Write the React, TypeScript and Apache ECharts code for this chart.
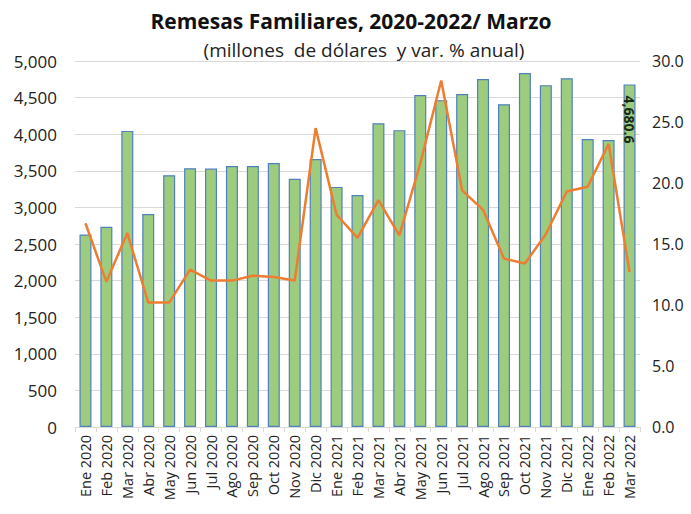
import React, { useEffect, useRef } from "react";
import * as echarts from "echarts";

const categories = [
  "Ene 2020", "Feb 2020", "Mar 2020", "Abr 2020", "May 2020", "Jun 2020", "Jul 2020",
  "Ago 2020", "Sep 2020", "Oct 2020", "Nov 2020", "Dic 2020",
  "Ene 2021", "Feb 2021", "Mar 2021", "Abr 2021", "May 2021", "Jun 2021", "Jul 2021",
  "Ago 2021", "Sep 2021", "Oct 2021", "Nov 2021", "Dic 2021",
  "Ene 2022", "Feb 2022", "Mar 2022",
];

const remesas = [
  2630, 2735, 4045, 2910, 3440, 3535, 3530, 3565, 3565, 3605, 3390, 3660,
  3280, 3170, 4150, 4055, 4535, 4465, 4550, 4755, 4410, 4835, 4670, 4765,
  3935, 3920, 4680.6,
];

const variacion = [
  16.7, 11.9, 15.9, 10.2, 10.2, 12.9, 12.0, 12.0, 12.4, 12.3, 12.0, 24.5,
  17.4, 15.5, 18.6, 15.7, 21.6, 28.4, 19.4, 17.8, 13.8, 13.4, 15.8, 19.3,
  19.7, 23.2, 12.7,
];

const leftTicks = { min: 0, max: 5000, interval: 500 };
const rightTicks = { min: 0, max: 30, interval: 5 };

const FONT = "'Open Sans', 'Noto Sans', sans-serif";

export default function App() {
  const ref = useRef<HTMLDivElement>(null);

  useEffect(() => {
    if (!ref.current) return;
    const chart = echarts.init(ref.current, null, { renderer: "svg" });
    const last = remesas.length - 1;
    const barData = remesas.map((v, i) =>
      i === last
        ? {
            value: v,
            label: {
              show: true,
              position: [6, 11],
              rotate: -90,
              align: "left",
              verticalAlign: "middle",
              formatter: (p: any) =>
                Number(p.value).toLocaleString("en-US", { minimumFractionDigits: 1, maximumFractionDigits: 1 }),
              fontFamily: FONT,
              fontWeight: "bold",
              fontSize: 14,
              color: "#1a2a1a",
            },
          }
        : v
    );

    chart.setOption({
      animation: false,
      backgroundColor: "#ffffff",
      title: [
        {
          text: "Remesas Familiares, 2020-2022/ Marzo",
          left: 346,
          textAlign: "center",
          top: 5,
          textStyle: { fontFamily: FONT, fontWeight: "bold", fontSize: 21, color: "#111" },
        },
        {
          text: "(millones  de dólares  y var. % anual)",
          left: 359,
          textAlign: "center",
          top: 35,
          textStyle: { fontFamily: FONT, fontWeight: "normal", fontSize: 19, color: "#222" },
        },
      ],
      grid: { left: 75, right: 51, top: 61, bottom: 87, containLabel: false },
      xAxis: {
        type: "category",
        data: categories,
        axisLine: { show: true, lineStyle: { color: "#d9d9d9" } },
        axisTick: { show: true, alignWithLabel: false, lineStyle: { color: "#d9d9d9" } },
        axisLabel: {
          interval: 0,
          rotate: 90,
          fontFamily: FONT,
          fontSize: 14.5,
          color: "#222",
          margin: 8,
        },
      },
      yAxis: [
        {
          type: "value",
          ...leftTicks,
          axisLine: { show: false },
          axisTick: { show: false },
          splitLine: { show: true, lineStyle: { color: "#d9d9d9", width: 1 } },
          axisLabel: {
            fontFamily: FONT,
            fontSize: 17,
            color: "#222",
            margin: 18,
            formatter: (v: number) => v.toLocaleString("en-US"),
          },
        },
        {
          type: "value",
          ...rightTicks,
          position: "right",
          axisLine: { show: false },
          axisTick: { show: false },
          splitLine: { show: false },
          axisLabel: {
            fontFamily: FONT,
            fontSize: 16,
            color: "#222",
            margin: 12,
            formatter: (v: number) => v.toFixed(1),
          },
        },
      ],
      series: [
        {
          type: "bar",
          data: barData,
          yAxisIndex: 0,
          barWidth: 12,
          itemStyle: { color: "#9dcc7e", borderColor: "#4f81bd", borderWidth: 1.2 },
        },
        {
          type: "line",
          data: variacion,
          yAxisIndex: 1,
          symbol: "none",
          lineStyle: { color: "#ed7d31", width: 2.5 },
          z: 5,
        },
      ],
    });
    return () => chart.dispose();
  }, []);

  return (
    <div
      ref={ref}
      style={{ position: "fixed", left: 0, top: 0, width: 691, height: 514 }}
    />
  );
}
